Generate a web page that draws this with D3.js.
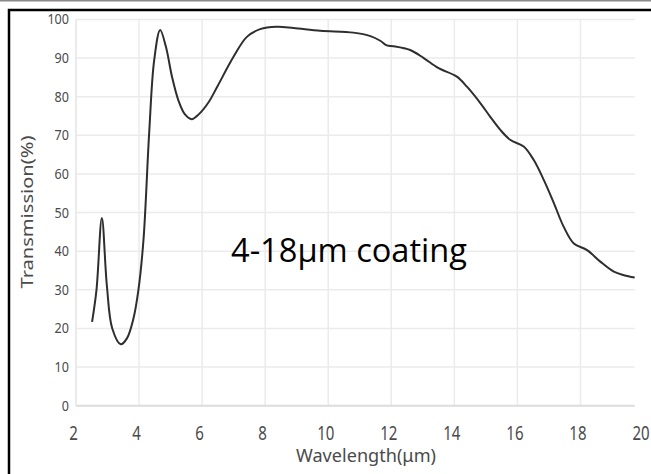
<!DOCTYPE html>
<html>
<head>
<meta charset="utf-8">
<script src="https://cdn.jsdelivr.net/npm/d3@7"></script>
<style>
  html, body { margin: 0; padding: 0; background: #fff; }
  svg { display: block; }
</style>
</head>
<body>
<div id="chart"></div>
<script>
// curve
var wavelength = [2.51, 2.65, 2.82, 2.98, 3.15, 3.42, 3.62, 3.82, 3.98, 4.14, 4.32, 4.48, 4.67, 4.85, 5.05, 5.25, 5.45, 5.67, 5.9, 6.2, 6.48,
  7.0, 7.42, 7.84, 8.37, 8.9, 9.75, 10.8, 11.34, 11.65, 11.86, 12.07, 12.6, 13.03, 13.5, 14.08, 14.4, 14.83, 15.14,
  15.46, 15.78, 16.2, 16.52, 16.84, 17.16, 17.47, 17.79, 18.21, 18.63, 19.06, 19.38, 19.72];
var transmission = [21.7, 30, 48.6, 31, 20, 15.9, 17.5, 22.5, 30, 42.9, 70.5, 89.5, 97.3, 93, 85, 79, 75.5, 74.2, 75.5, 78.5, 82.6,
  90.4, 95.5, 97.5, 98.1, 97.8, 97.1, 96.6, 95.7, 94.5, 93.3, 93.1, 92.1, 90.0, 87.4, 85.2, 82.6, 78.3, 74.8,
  71.4, 68.8, 67.1, 63.6, 58.4, 52.4, 46.3, 42.0, 40.3, 37.3, 34.7, 33.8, 33.2];
var xTicks = [2, 4, 6, 8, 10, 12, 14, 16, 18, 20];
var yTicks = [0, 10, 20, 30, 40, 50, 60, 70, 80, 90, 100];
var xEnd = 19.72; // plot area stops short of 20
var xTitle = "Wavelength(\u03bcm)";
var yTitle = "Transmission(%)";
var note = "4-18\u03bcm coating";

var W = 651, H = 474;
var svg = d3.select("#chart").append("svg")
    .attr("width", W)
    .attr("height", H);

var x = d3.scaleLinear().domain([2, 20]).range([76, 643.5]);
var y = d3.scaleLinear().domain([0, 100]).range([405.7, 19.5]);

// frame
svg.append("line")
    .attr("x1", 0).attr("x2", W).attr("y1", 0.5).attr("y2", 0.5)
    .attr("stroke", "#8a8a8a").attr("stroke-width", 2);
svg.append("path")
    .attr("d", "M9," + H + "V10H" + W)
    .attr("fill", "none")
    .attr("stroke", "#000").attr("stroke-width", 2.5);

// grid
svg.append("g").selectAll("line")
  .data(yTicks.filter(function(d){ return d > 0; }))
  .enter().append("line")
    .attr("x1", x(2)).attr("x2", x(xEnd))
    .attr("y1", function(d){ return y(d); })
    .attr("y2", function(d){ return y(d); })
    .attr("stroke", "#ebebeb").attr("stroke-width", 1.5);

svg.append("g").selectAll("line")
  .data(xTicks.filter(function(d){ return d > 2 && d < xEnd; }))
  .enter().append("line")
    .attr("x1", function(d){ return x(d); })
    .attr("x2", function(d){ return x(d); })
    .attr("y1", y(0)).attr("y2", y(100))
    .attr("stroke", "#ebebeb").attr("stroke-width", 1.5);

// axis lines
svg.append("line")
    .attr("x1", x(2)).attr("x2", x(xEnd)).attr("y1", y(0)).attr("y2", y(0))
    .attr("stroke", "#dcdcdc").attr("stroke-width", 2);
svg.append("line")
    .attr("x1", x(2)).attr("x2", x(2)).attr("y1", y(0)).attr("y2", y(100))
    .attr("stroke", "#e4e4e4").attr("stroke-width", 1.5);

var font = "'Noto Sans', 'DejaVu Sans', sans-serif";

// tick labels (squeezed to look like the narrow font of the original)
var xa = svg.append("g")
    .attr("transform", "translate(0," + y(0) + ")")
    .call(d3.axisBottom(x).tickValues(xTicks).tickSize(0).tickPadding(20));
xa.select(".domain").remove();
xa.selectAll("text")
    .attr("dx", -3)
    .attr("font-family", font)
    .attr("font-size", 20)
    .attr("fill", "#4a4a4a")
    .attr("textLength", function(d){ return String(d).length * 8.6; })
    .attr("lengthAdjust", "spacingAndGlyphs");

var ya = svg.append("g")
    .attr("transform", "translate(" + x(2) + ",0)")
    .call(d3.axisLeft(y).tickValues(yTicks).tickSize(0).tickPadding(7));
ya.select(".domain").remove();
ya.selectAll("text")
    .attr("font-family", font)
    .attr("font-size", 14)
    .attr("fill", "#4a4a4a")
    .attr("textLength", function(d){ return String(d).length * 7.2; })
    .attr("lengthAdjust", "spacingAndGlyphs");

// titles
svg.append("text")
    .attr("x", 366).attr("y", 462)
    .attr("text-anchor", "middle")
    .attr("font-family", font)
    .attr("font-size", 18)
    .attr("fill", "#4a4a4a")
    .attr("textLength", 140)
    .attr("lengthAdjust", "spacingAndGlyphs")
    .text(xTitle);

svg.append("text")
    .attr("transform", "translate(33,212) rotate(-90)")
    .attr("text-anchor", "middle")
    .attr("font-family", font)
    .attr("font-size", 17)
    .attr("fill", "#4a4a4a")
    .attr("textLength", 153)
    .attr("lengthAdjust", "spacingAndGlyphs")
    .text(yTitle);

// curve
var pts = wavelength.map(function(d, i){ return [d, transmission[i]]; });
var line = d3.line()
    .x(function(d){ return x(d[0]); })
    .y(function(d){ return y(d[1]); })
    .curve(d3.curveCatmullRom.alpha(0.5));

svg.append("path")
    .datum(pts)
    .attr("d", line)
    .attr("fill", "none")
    .attr("stroke", "#2e2e2e")
    .attr("stroke-width", 2);

// annotation
svg.append("text")
    .attr("x", 349).attr("y", 262)
    .attr("text-anchor", "middle")
    .attr("font-family", "'Open Sans', 'Lato', sans-serif")
    .attr("font-size", 32)
    .attr("fill", "#000")
    .attr("textLength", 236)
    .attr("lengthAdjust", "spacingAndGlyphs")
    .text(note);
</script>
</body>
</html>
